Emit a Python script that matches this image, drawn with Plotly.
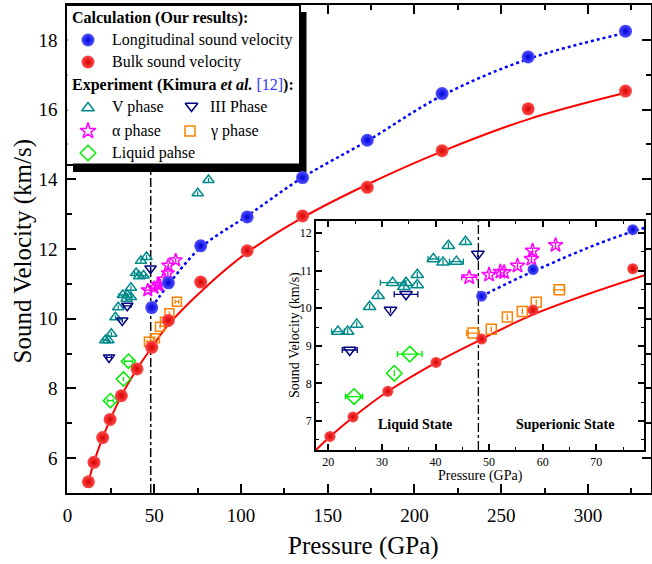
import plotly.graph_objects as go

W, H = 652, 564

# ---------------- data ----------------
bulk_p = [12.1, 15.3, 20.3, 24.6, 31.1, 40.1, 48.6, 58.2, 76.8, 103.6, 135.5, 172.8, 215.9, 265.5, 321.6]
bulk_v = [5.32, 5.88, 6.59, 7.11, 7.79, 8.56, 9.18, 9.95, 11.05, 11.95, 12.95, 13.77, 14.82, 16.02, 16.53]
long_p = [48.6, 58.2, 76.8, 103.6, 135.5, 172.8, 215.9, 265.5, 321.6]
long_v = [10.32, 11.03, 12.09, 12.92, 14.05, 15.12, 16.46, 17.51, 18.25]

# fitted curves
bulk_fit_p = [12.1, 15.3, 20.3, 24.6, 31.0, 40.0, 48.5, 58.2, 78.9, 103.6, 135.5, 172.8, 215.9, 265.5, 321.6]
bulk_fit_v = [5.32, 5.88, 6.58, 7.10, 7.78, 8.55, 9.17, 9.83, 10.87, 11.90, 12.90, 13.85, 14.80, 15.72, 16.48]
long_fit_p = [48.6, 58.2, 76.8, 103.6, 135.5, 172.8, 215.9, 265.5, 321.6]
long_fit_v = [10.32, 10.98, 12.04, 12.95, 14.05, 15.10, 16.40, 17.45, 18.20]

# experiment (Kimura et al.)
v_phase_p = [21.8, 23.6, 25.3, 27.7, 29.3, 32.0, 34.1, 34.5, 36.6, 36.6, 39.6, 41.4, 43.9, 42.4, 45.6, 75.1, 81.3]
v_phase_v = [9.38, 9.38, 9.57, 10.04, 10.33, 10.68, 10.57, 10.68, 10.62, 10.89, 11.31, 11.22, 11.24, 11.66, 11.77, 13.60, 13.98]
v_phase_e = [1.2, 0, 0, 0, 0, 2.3, 0, 0, 0, 0, 1.0, 0, 1.3, 0, 0, 0, 0]

iii_phase_p = [24.0, 31.6, 34.5, 47.9]
iii_phase_v = [8.89, 9.95, 10.37, 11.44]
iii_phase_e = [1.4, 0, 2.2, 0]

alpha_p = [46.3, 50.0, 52.1, 52.8, 55.3, 57.9, 58.1, 62.4]
alpha_v = [10.82, 10.89, 10.97, 10.96, 11.13, 11.31, 11.53, 11.68]
alpha_e = [1.4, 0, 0, 0, 0, 0, 0, 0]

gamma_p = [47.0, 50.4, 53.4, 56.2, 58.8, 63.1]
gamma_v = [9.34, 9.44, 9.77, 9.91, 10.16, 10.49]
gamma_e = [1.2, 0, 0, 0, 0, 1.0]

liquid_p = [24.8, 32.3, 35.2]
liquid_v = [7.65, 8.27, 8.78]
liquid_e = [1.6, 0, 2.3]

transition_p = 48

x_ticks_main = [0, 50, 100, 150, 200, 250, 300]
y_ticks_main = [6, 8, 10, 12, 14, 16, 18]

# ---------------- styling ----------------
FONT = "Liberation Serif"
RED, RED_D = "#ff4a4a", "#d80000"
BLUE, BLUE_D = "#5050ff", "#0000d8"
TEAL, NAVY, MAG, ORANGE, GREEN = "#008b8b", "#000080", "#ff00ff", "#ff8000", "#00ee00"

fig = go.Figure()


def add_all(xa, ya, big):
    k = dict(xaxis=xa, yaxis=ya, showlegend=False, hoverinfo="skip")
    ball = 13 if big else 11
    sym = 10 if big else 11
    ebw = 2 if big else 3
    fig.add_trace(go.Scatter(x=bulk_fit_p, y=bulk_fit_v, mode="lines",
                             line=dict(color="#ff0000", width=2, shape="spline", smoothing=1.0), **k))
    fig.add_trace(go.Scatter(x=long_fit_p, y=long_fit_v, mode="lines",
                             line=dict(color="#0000ff", width=2.5, dash="dot", shape="spline", smoothing=1.0), **k))

    def exp(px, pv, pe, symbol, color, size):
        fig.add_trace(go.Scatter(
            x=px, y=pv, mode="markers",
            marker=dict(symbol=symbol, size=size, color=color, line=dict(color=color, width=1.5)),
            error_x=dict(type="data", array=pe, color=color, thickness=1.3, width=ebw),
            **k))

    exp(v_phase_p, v_phase_v, v_phase_e, "triangle-up-open", TEAL, sym)
    exp(iii_phase_p, iii_phase_v, iii_phase_e, "triangle-down-open", NAVY, sym)
    exp(liquid_p, liquid_v, liquid_e, "diamond-open", GREEN, sym + 1)
    exp(gamma_p, gamma_v, gamma_e, "square-open", ORANGE, sym - 1)
    exp(alpha_p, alpha_v, alpha_e, "star-open", MAG, sym)

    fig.add_trace(go.Scatter(x=bulk_p, y=bulk_v, mode="markers",
                             marker=dict(size=ball, color=RED,
                                         gradient=dict(type="radial", color=RED_D),
                                         line=dict(width=0)), **k))
    fig.add_trace(go.Scatter(x=long_p, y=long_v, mode="markers",
                             marker=dict(size=ball, color=BLUE,
                                         gradient=dict(type="radial", color=BLUE_D),
                                         line=dict(width=0)), **k))


add_all("x", "y", True)
add_all("x2", "y2", False)

# ---------------- legend (own little subplot, pixel coordinates) ----------------
LX0, LX1, LY0, LY1 = 67.4, 299.3, 5.5, 163.5
lk = dict(xaxis="x3", yaxis="y3", showlegend=False, hoverinfo="skip", mode="markers")
fig.add_trace(go.Scatter(x=[88], y=[40], marker=dict(size=13, color=BLUE, gradient=dict(type="radial", color=BLUE_D)), **lk))
fig.add_trace(go.Scatter(x=[88], y=[62], marker=dict(size=13, color=RED, gradient=dict(type="radial", color=RED_D)), **lk))
fig.add_trace(go.Scatter(x=[88], y=[108], marker=dict(symbol="triangle-up-open", size=11, color=TEAL, line=dict(width=1.5, color=TEAL)), **lk))
fig.add_trace(go.Scatter(x=[191.5], y=[106], marker=dict(symbol="triangle-down-open", size=11, color=NAVY, line=dict(width=1.5, color=NAVY)), **lk))
fig.add_trace(go.Scatter(x=[88], y=[131], marker=dict(symbol="star-open", size=12, color=MAG, line=dict(width=1.5, color=MAG)), **lk))
fig.add_trace(go.Scatter(x=[190], y=[131], marker=dict(symbol="square-open", size=10, color=ORANGE, line=dict(width=1.5, color=ORANGE)), **lk))
fig.add_trace(go.Scatter(x=[88], y=[153], marker=dict(symbol="diamond-open", size=12, color=GREEN, line=dict(width=1.5, color=GREEN)), **lk))

ann = []


def leg_text(x, y, t):
    ann.append(dict(x=x, y=y, xref="x3", yref="y3", text=t, showarrow=False,
                    xanchor="left", yanchor="middle", font=dict(family=FONT, size=16, color="black")))


leg_text(70, 18, "<b>Calculation (Our results):</b>")
leg_text(110, 40, "Longitudinal sound velocity")
leg_text(110, 62, "Bulk sound velocity")
leg_text(70, 85, "<b>Experiment (Kimura <i>et al.</i></b> <span style='color:#3333ff'>[12]</span><b>):</b>")
leg_text(110, 107, "V phase")
leg_text(208, 107, "III Phase")
leg_text(110, 131, "α phase")
leg_text(208, 131, "γ phase")
leg_text(110, 153, "Liquid pahse")

# axis titles
ann.append(dict(x=363 / W, y=1 - 546 / H, xref="paper", yref="paper", text="Pressure (GPa)", showarrow=False,
                xanchor="center", yanchor="middle", font=dict(family=FONT, size=25, color="black")))
ann.append(dict(x=22.5 / W, y=1 - 251 / H, xref="paper", yref="paper", text="Sound Velocity (km/s)", showarrow=False,
                textangle=-90, xanchor="center", yanchor="middle", font=dict(family=FONT, size=25, color="black")))
ann.append(dict(x=480 / W, y=1 - 476 / H, xref="paper", yref="paper", text="Pressure (GPa)", showarrow=False,
                xanchor="center", yanchor="middle", font=dict(family=FONT, size=14, color="black")))
ann.append(dict(x=295 / W, y=1 - 335 / H, xref="paper", yref="paper", text="Sound Velocity (km/s)", showarrow=False,
                textangle=-90, xanchor="center", yanchor="middle", font=dict(family=FONT, size=14, color="black")))
# inset state labels
ann.append(dict(x=36.1, y=6.9, xref="x2", yref="y2", text="<b>Liquid State</b>", showarrow=False,
                font=dict(family=FONT, size=14, color="black")))
ann.append(dict(x=64.1, y=6.9, xref="x2", yref="y2", text="<b>Superionic State</b>", showarrow=False,
                font=dict(family=FONT, size=14, color="black")))

shapes = [
    dict(type="line", xref="x", yref="y", x0=transition_p, x1=transition_p, y0=5, y1=19,
         line=dict(color="black", width=1.5, dash="dashdot"), layer="below"),
    dict(type="line", xref="x2", yref="y2", x0=transition_p, x1=transition_p, y0=6.23, y1=12.32,
         line=dict(color="black", width=1.3, dash="dashdot"), layer="below"),
    # legend shadow
    dict(type="rect", xref="paper", yref="paper", x0=73 / W, x1=306.5 / W, y0=1 - 172 / H, y1=1 - 12 / H,
         fillcolor="black", line=dict(width=0), layer="below"),
]

axis_common = dict(showline=True, linecolor="black", mirror="ticks", showgrid=False, zeroline=False,
                   ticks="inside", tickcolor="black")

fig.update_layout(
    width=W, height=H,
    margin=dict(l=0, r=0, t=0, b=0),
    paper_bgcolor="white", plot_bgcolor="white",
    font=dict(family=FONT, color="black"),
    showlegend=False,
    xaxis=dict(domain=[67.4 / W, 650.5 / W], range=[0, 336], anchor="y",
               tickvals=x_ticks_main, linewidth=2, ticklen=9, tickwidth=2,
               minor=dict(dtick=25, ticks="inside", ticklen=5, tickwidth=1.5, tickcolor="black"),
               tickfont=dict(family=FONT, size=19), ticklabelstandoff=4, automargin=False, **axis_common),
    yaxis=dict(domain=[1 - 493 / H, 1 - 5 / H], range=[5, 19], anchor="x",
               tickvals=y_ticks_main, linewidth=2, ticklen=9, tickwidth=2,
               minor=dict(dtick=1, ticks="inside", ticklen=5, tickwidth=1.5, tickcolor="black"),
               tickfont=dict(family=FONT, size=19), ticklabelstandoff=4, automargin=False, **axis_common),
    xaxis2=dict(domain=[316 / W, 644 / W], range=[17.7, 78.9], anchor="y2",
                dtick=10, tick0=0, linewidth=1.5, ticklen=6, tickwidth=1.5,
                minor=dict(dtick=5, ticks="inside", ticklen=3, tickwidth=1.2, tickcolor="black"),
                tickfont=dict(family=FONT, size=12), ticklabelstandoff=0, automargin=False, **axis_common),
    yaxis2=dict(domain=[1 - 450 / H, 1 - 221 / H], range=[6.23, 12.32], anchor="x2",
                dtick=1, tick0=0, linewidth=1.5, ticklen=6, tickwidth=1.5,
                minor=dict(dtick=0.5, ticks="inside", ticklen=3, tickwidth=1.2, tickcolor="black"),
                tickfont=dict(family=FONT, size=12), ticklabelstandoff=0, automargin=False, **axis_common),
    xaxis3=dict(domain=[LX0 / W, LX1 / W], range=[LX0, LX1], anchor="y3",
                showline=True, mirror=True, linecolor="black", linewidth=1.5, showgrid=False,
                zeroline=False, showticklabels=False, ticks="", fixedrange=True),
    yaxis3=dict(domain=[1 - LY1 / H, 1 - LY0 / H], range=[LY1, LY0], anchor="x3",
                showline=True, mirror=True, linecolor="black", linewidth=1.5, showgrid=False,
                zeroline=False, showticklabels=False, ticks="", fixedrange=True),
    annotations=ann,
    shapes=shapes,
)

fig.write_html("out.html", config={"displayModeBar": False},
               post_script="document.body.style.margin='0px';")
